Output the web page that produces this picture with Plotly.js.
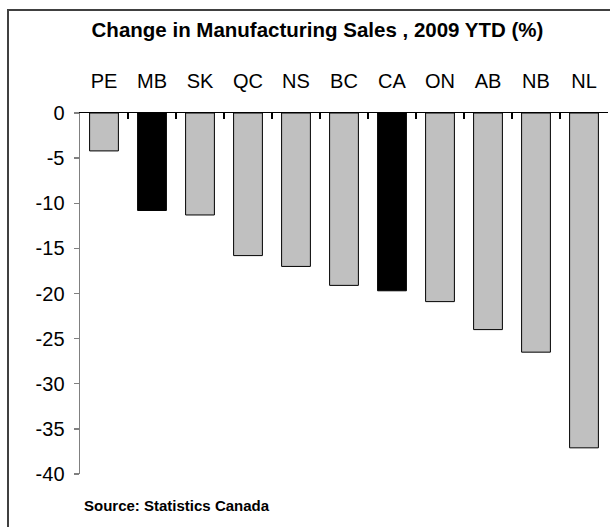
<!DOCTYPE html>
<html>
<head>
<meta charset="utf-8">
<script src="https://cdn.plot.ly/plotly-3.0.1.min.js"></script>
<style>
  html, body { margin: 0; padding: 0; background: #fff; }
  #chart { width: 610px; height: 527px; }
</style>
</head>
<body>
<div id="chart"></div>
<script>
const regions = ["PE", "MB", "SK", "QC", "NS", "BC", "CA", "ON", "AB", "NB", "NL"];
const changePct = [-4.2, -10.8, -11.3, -15.8, -17.0, -19.1, -19.7, -20.9, -24.0, -26.5, -37.1];
const highlighted = ["MB", "CA"];
const yTickVals = [0, -5, -10, -15, -20, -25, -30, -35, -40];
const yTickText = ["0", "-5", "-10", "-15", "-20", "-25", "-30", "-35", "-40"];
const titleText = "Change in Manufacturing Sales , 2009 YTD (%)";
const sourceText = "Source: Statistics Canada";

const barColors = regions.map(r => highlighted.includes(r) ? "#000000" : "#C0C0C0");
const font = "Arial, 'Liberation Sans', sans-serif";

const trace = {
  type: "bar",
  x: regions,
  y: changePct,
  marker: { color: barColors, line: { color: "#000000", width: 1 } },
  hoverinfo: "x+y"
};

const layout = {
  width: 610,
  height: 527,
  margin: { l: 80, r: 2, t: 113, b: 53 },
  paper_bgcolor: "#ffffff",
  plot_bgcolor: "#ffffff",
  showlegend: false,
  bargap: 0.4,
  font: { family: font, color: "#000000", size: 20 },
  title: {
    text: "<b>" + titleText + "</b>",
    font: { family: font, size: 20.5, color: "#000000" },
    x: 317.5 / 610, xref: "container", xanchor: "center",
    y: 1 - 30 / 527, yref: "container", yanchor: "middle"
  },
  xaxis: {
    type: "category",
    side: "top",
    showline: true,
    linecolor: "#000000",
    linewidth: 1.3,
    ticks: "inside",
    tickson: "boundaries",
    ticklen: 6,
    tickcolor: "#000000",
    tickwidth: 1.3,
    ticklabelstandoff: 16,
    showgrid: false,
    zeroline: false,
    tickfont: { family: font, size: 20, color: "#000000" },
    fixedrange: true
  },
  yaxis: {
    range: [-40, 0],
    tickvals: yTickVals,
    ticktext: yTickText,
    ticks: "outside",
    ticklen: 5,
    tickcolor: "#808080",
    tickwidth: 1.3,
    showline: true,
    linecolor: "#808080",
    linewidth: 1.5,
    showgrid: false,
    zeroline: false,
    ticklabelstandoff: 5,
    tickfont: { family: font, size: 20, color: "#000000" },
    fixedrange: true
  },
  shapes: [
    {
      type: "rect", xref: "paper", yref: "paper",
      x0: (8 - 80) / 528, x1: (614 - 80) / 528,
      y0: -(532 - 474) / 361, y1: 1 + (113 - 10) / 361,
      line: { color: "#404040", width: 2 },
      fillcolor: "rgba(0,0,0,0)", layer: "below"
    }
  ],
  annotations: [
    {
      text: "<b>" + sourceText + "</b>",
      xref: "paper", yref: "paper",
      x: (82 - 80) / 528, xanchor: "left",
      y: -(505 - 474) / 361, yanchor: "middle",
      showarrow: false,
      font: { family: font, size: 15, color: "#000000" }
    }
  ]
};

Plotly.newPlot("chart", [trace], layout, { displayModeBar: false, staticPlot: true });
</script>
</body>
</html>
